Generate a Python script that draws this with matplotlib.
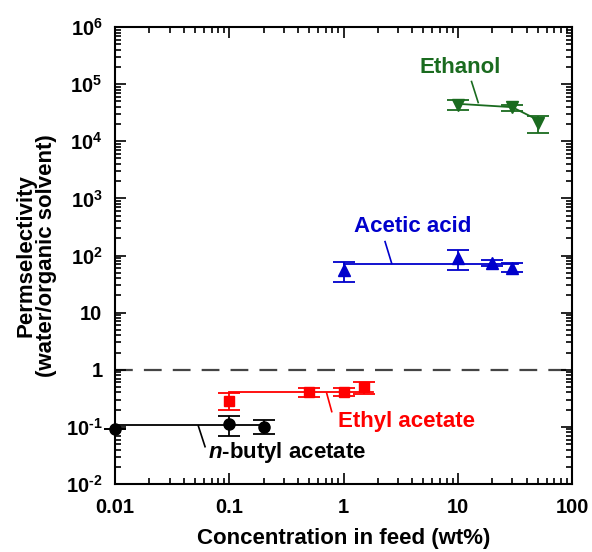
import matplotlib
matplotlib.use("Agg")
import matplotlib.pyplot as plt
from matplotlib.ticker import LogLocator, FixedLocator, FixedFormatter, NullFormatter

plt.rcParams['font.family'] = ['Liberation Sans', 'DejaVu Sans']
plt.rcParams['font.weight'] = 'bold'
plt.rcParams['mathtext.fontset'] = 'custom'
plt.rcParams['mathtext.rm'] = 'Liberation Sans:bold'
plt.rcParams['mathtext.bf'] = 'Liberation Sans:bold'
plt.rcParams['mathtext.it'] = 'Liberation Sans:bold:italic'
plt.rcParams['mathtext.default'] = 'rm'

# n-butyl acetate
nba_x = [0.01, 0.1, 0.2]
nba_y = [0.092, 0.111, 0.100]
nba_lo = [0.092, 0.069, 0.074]
nba_hi = [0.092, 0.155, 0.130]
nba_fit_x = [0.01, 0.2]
nba_fit_y = [0.108, 0.108]

# Ethyl acetate
ea_x = [0.1, 0.5, 1.0, 1.5]
ea_y = [0.284, 0.40, 0.40, 0.506]
ea_lo = [0.20, 0.33, 0.35, 0.37]
ea_hi = [0.39, 0.47, 0.47, 0.62]
ea_fit_x = [0.1, 1.8]
ea_fit_y = [0.40, 0.40]

# Acetic acid
aa_x = [1.0, 10.0, 20.0, 30.0]
aa_y = [56.0, 90.0, 73.0, 61.0]
aa_lo = [35.0, 56.0, 65.0, 52.0]
aa_hi = [78.0, 125.0, 83.0, 73.0]
aa_fit_x = [1.0, 34.0]
aa_fit_y = [70.0, 70.0]

# Ethanol
et_x = [10.0, 30.0, 50.0]
et_y = [43400.0, 39500.0, 20700.0]
et_lo = [35500.0, 34000.0, 14200.0]
et_hi = [53000.0, 43400.0, 28200.0]
et_fit_x = [10.0, 30.0, 50.0]
et_fit_y = [45200.0, 39500.0, 23700.0]

y_ticks = [1e-2, 1e-1, 1, 10, 1e2, 1e3, 1e4, 1e5, 1e6]
y_ticklabels = ['$10^{\u2010 2}$', '$10^{\u2010 1}$', '1', '10', '$10^2$', '$10^3$', '$10^4$', '$10^5$', '$10^6$']
x_ticks = [0.01, 0.1, 1, 10, 100]
x_ticklabels = ['0.01', '0.1', '1', '10', '100']

c_black = '#000000'
c_red = '#ff0000'
c_blue = '#0000cc'
c_green = '#1a6b1f'

fig = plt.figure(figsize=(5.92, 5.52), dpi=100)
ax = fig.add_axes([115/592, 1 - 484/552, (572-115)/592, (484-27)/552])

def series(x, y, lo, hi, fx, fy, color, marker, ms):
    yerr = [[yy - l for yy, l in zip(y, lo)], [h - yy for yy, h in zip(y, hi)]]
    ax.plot(fx, fy, color=color, lw=1.3, zorder=2)
    ax.errorbar(x, y, yerr=yerr, fmt=marker, color=color, ms=ms, capsize=8,
                elinewidth=1.3, capthick=1.3, mec=color, mfc=color, zorder=3,
                clip_on=False)

series(nba_x, nba_y, nba_lo, nba_hi, nba_fit_x, nba_fit_y, c_black, 'o', 8)
series(ea_x, ea_y, ea_lo, ea_hi, ea_fit_x, ea_fit_y, c_red, 's', 7.5)
series(aa_x, aa_y, aa_lo, aa_hi, aa_fit_x, aa_fit_y, c_blue, '^', 8)
series(et_x, et_y, et_lo, et_hi, et_fit_x, et_fit_y, c_green, 'v', 8)

ax.axhline(1, color='#444444', lw=1.6, ls=(0, (8, 5)), zorder=1)

# annotations
fs_ann = 16
ax.text(10.5, 1.93e5, 'Ethanol', color=c_green, fontsize=fs_ann, fontweight='bold', ha='center', va='center')
ax.plot([13.2, 15.1], [1.11e5, 4.76e4], color=c_green, lw=1.2)
ax.text(4.06, 316, 'Acetic acid', color=c_blue, fontsize=fs_ann, fontweight='bold', ha='center', va='center')
ax.plot([2.31, 2.64], [175, 73], color=c_blue, lw=1.2)
ax.text(3.57, 0.123, 'Ethyl acetate', color=c_red, fontsize=fs_ann, fontweight='bold', ha='center', va='center')
ax.plot([0.713, 0.789], [0.387, 0.185], color=c_red, lw=1.2)
ax.text(0.318, 0.035, r'$\mathit{n}$-butyl acetate', color=c_black, fontsize=fs_ann, fontweight='bold', ha='center', va='center')
ax.plot([0.0536, 0.0614], [0.104, 0.045], color=c_black, lw=1.2)

ax.set_xscale('log')
ax.set_yscale('log')
ax.set_xlim(0.01, 100)
ax.set_ylim(1e-2, 1e6)

ax.yaxis.set_major_locator(FixedLocator(y_ticks))
ax.yaxis.set_major_formatter(FixedFormatter(y_ticklabels))
ax.yaxis.set_minor_locator(LogLocator(base=10, subs=range(2, 10), numticks=20))
ax.yaxis.set_minor_formatter(NullFormatter())
ax.xaxis.set_major_locator(FixedLocator(x_ticks))
ax.xaxis.set_major_formatter(FixedFormatter(x_ticklabels))
ax.xaxis.set_minor_locator(LogLocator(base=10, subs=range(2, 10), numticks=20))
ax.xaxis.set_minor_formatter(NullFormatter())

ax.tick_params(which='both', direction='in', top=True, right=True, width=1.2)
ax.tick_params(which='major', length=8, labelsize=14.5)
ax.tick_params(axis='x', which='major', pad=10)
ax.tick_params(axis='y', which='major', pad=9)
ax.tick_params(which='minor', length=4)
for s in ax.spines.values():
    s.set_linewidth(1.5)
for lab in ax.get_xticklabels() + ax.get_yticklabels():
    lab.set_fontweight('bold')

ax.set_xlabel('Concentration in feed (wt%)', fontsize=16, fontweight='bold', labelpad=8)
ax.set_ylabel('Permselectivity\n(water/organic solvent)', fontsize=16, fontweight='bold', labelpad=6, linespacing=1.0)

fig.savefig('out.png', dpi=100)
